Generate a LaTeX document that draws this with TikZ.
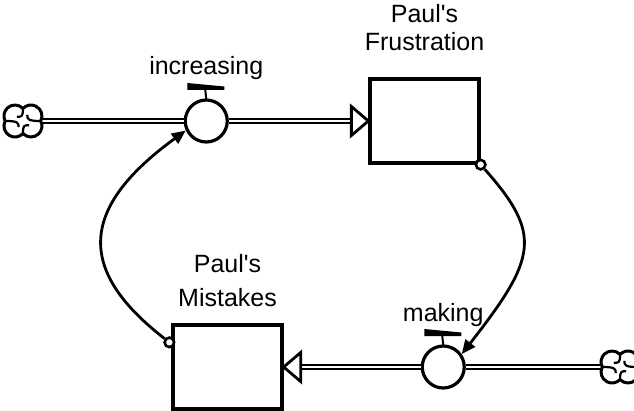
\documentclass[tikz,border=0pt]{standalone}
\usepackage{fontspec}
\setmainfont{Liberation Sans}
\usetikzlibrary{arrows.meta, positioning}
\tikzstyle{stock} = [rectangle, minimum width=109pt, minimum height=84pt, draw=black, line width=3.3pt, fill=white]
\tikzstyle{valve} = [circle, minimum size=42pt, inner sep=0pt, draw=black, line width=3.2pt, fill=white]
\tikzstyle{source} = [circle, minimum size=35.6pt, inner sep=0pt]
\tikzstyle{puff} = [line width=3pt, line join=round]
\tikzstyle{dot} = [circle, minimum size=9.5pt, inner sep=0pt, draw=black, line width=2.6pt, fill=white]
\tikzstyle{varname} = [inner sep=0pt, font=\fontsize{25}{28}\selectfont, align=center]
\tikzstyle{pipeline} = [double, double distance=2.2pt, line width=2.2pt]
\tikzstyle{pipe} = [pipeline, shorten >=16pt]
\tikzstyle{head} = [draw=black, fill=white, line width=2.8pt]
\tikzstyle{arrow} = [line width=2.8pt, -{Triangle[length=14pt, width=12pt]}]

\begin{document}
\begin{tikzpicture}[x=1pt, y=1pt]
    \useasboundingbox (0,0) rectangle (634,410);

    \node (frustration) [stock] at (424.5,289) {};
    \node (mistakes) [stock] at (227.5,43) {};
    \node (increasing) [valve, left=139.5pt of frustration] {};
    \node (making) [valve, right=137pt of mistakes] {};
    \node (cloud_in) [source, left=142.7pt of increasing] {};
    \node (cloud_out) [source, right=136.2pt of making] {};

    \node (frustration_name) [varname, above=26pt of frustration] {Paul\textquotesingle s\\Frustration};
    \node (mistakes_name) [varname, above=16pt of mistakes] {Paul\textquotesingle s\\[6pt]Mistakes};
    \node (increasing_name) [varname, above=19pt of increasing] {increasing};
    \node (making_name) [varname, above=18pt of making] {making};

    \node (frustration_dot) [dot] at (frustration.south east) {};
    \node (mistakes_dot) [dot, xshift=-2pt, yshift=-19pt] at (mistakes.north west) {};

    \draw [pipeline] (cloud_in) -- (increasing);
    \draw [pipe] (increasing) -- (frustration);
    \draw [head] (frustration.west) -- ++(-17,14.5) -- ++(0,-29) -- cycle;
    \draw [pipeline] (cloud_out) -- (making);
    \draw [pipe] (making) -- (mistakes);
    \draw [head] (mistakes.east) -- ++(17,14.5) -- ++(0,-29) -- cycle;

    \draw [arrow] (frustration_dot) .. controls +(62,-70) and +(75,96) .. (making.35);
    \draw [arrow] (mistakes_dot) .. controls +(-90,70) and +(-110,-80) .. (increasing.205);

    \foreach \v in {increasing, making} {
        \fill [shift={(\v.center)}] (-19,38) -- (18,34.5) -- (18,31) -- (-19,31) -- cycle;
        \draw [shift={(\v.center)}, line width=2pt] (-1,31) -- (0,22);
    }
    \foreach \c in {cloud_in, cloud_out} {
        \draw [puff, shift={(\c.center)}] (17.8,0) arc[start angle=-27, end angle=136.7, radius=11]
            arc[start angle=43.3, end angle=207, radius=11]
            arc[start angle=153, end angle=316.7, radius=11]
            arc[start angle=223.3, end angle=387, radius=11] -- cycle;
        \foreach \a/\r in {0/17.8, 90/12.5, 180/17.8, 270/12.5}
            \draw [puff, shift={(\c.center)}, line width=2.2pt] (\a:\r) .. controls (\a:{0.3*\r}) and (\a+20:4.5) .. (\a+55:7.5);
    }

\end{tikzpicture}
\end{document}
